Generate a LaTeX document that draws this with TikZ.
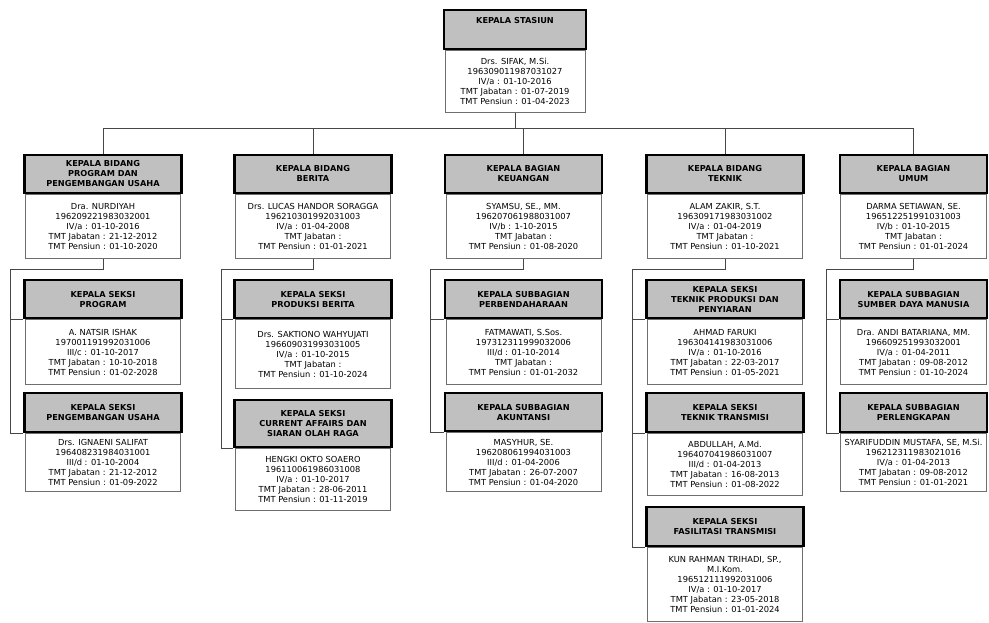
\documentclass[tikz,border=0pt]{standalone}
\usepackage{fontspec}
\setmainfont{DejaVu Sans}
\definecolor{headgray}{RGB}{192,192,192}
\definecolor{boxline}{RGB}{110,110,110}
\definecolor{wire}{RGB}{70,70,70}
\newcommand{\hdfont}{\fontsize{8.2}{10}\selectfont\bfseries}
\newcommand{\bdfont}{\fontsize{8.3}{10}\selectfont}
\tikzset{
  head/.style={draw=black, line width=2.4pt, fill=headgray, font=\hdfont, align=center,
    anchor=north, inner sep=1pt, minimum width=157pt, minimum height=38pt},
  body/.style={draw=boxline, line width=0.7pt, fill=white, font=\bdfont, align=center,
    anchor=north, inner sep=1pt, minimum width=155pt, minimum height=63pt},
  link/.style={draw=wire, line width=0.7pt}
}

\begin{document}
\begin{tikzpicture}[x=1pt,y=-1pt]
\useasboundingbox (0,0) rectangle (989,622);

% kepala stasiun
\node[head, minimum width=142pt, minimum height=39pt] (ks-h) at (515,9) {KEPALA STASIUN\\~\\[-2pt]~};
\node[body, minimum width=140pt, minimum height=62pt] (ks-b) at (ks-h.south) {Drs. SIFAK, M.Si.\\196309011987031027\\IV/a : 01-10-2016\\TMT Jabatan : 01-07-2019\\TMT Pensiun : 01-04-2023};

% bidang / bagian
\node[head] (kbp-h) at (103,153.5) {KEPALA BIDANG\\PROGRAM DAN\\PENGEMBANGAN USAHA};
\node[body, minimum height=64pt] (kbp-b) at (kbp-h.south) {Dra. NURDIYAH\\196209221983032001\\IV/a : 01-10-2016\\TMT Jabatan : 21-12-2012\\TMT Pensiun : 01-10-2020};

\node[head] (kbb-h) at (313,153.5) {KEPALA BIDANG\\BERITA};
\node[body, minimum height=64pt] (kbb-b) at (kbb-h.south) {Drs. LUCAS HANDOR SORAGGA\\196210301992031003\\IV/a : 01-04-2008\\TMT Jabatan :\\TMT Pensiun : 01-01-2021};

\node[head] (kbk-h) at (523.5,153.5) {KEPALA BAGIAN\\KEUANGAN};
\node[body, minimum height=64pt] (kbk-b) at (kbk-h.south) {SYAMSU, SE., MM.\\196207061988031007\\IV/b : 1-10-2015\\TMT Jabatan :\\TMT Pensiun : 01-08-2020};

\node[head] (kbt-h) at (725,153.5) {KEPALA BIDANG\\TEKNIK};
\node[body, minimum height=64pt] (kbt-b) at (kbt-h.south) {ALAM ZAKIR, S.T.\\196309171983031002\\IV/a : 01-04-2019\\TMT Jabatan :\\TMT Pensiun : 01-10-2021};

\node[head, minimum width=147pt] (kbu-h) at (913.5,153.5) {KEPALA BAGIAN\\UMUM};
\node[body, minimum width=146pt, minimum height=64pt] (kbu-b) at (kbu-h.south) {DARMA SETIAWAN, SE.\\196512251991031003\\IV/b : 01-10-2015\\TMT Jabatan :\\TMT Pensiun : 01-01-2024};

% seksi / subbagian
\node[head] (sprog-h) at (103,279) {KEPALA SEKSI\\PROGRAM};
\node[body, minimum height=65pt] (sprog-b) at (sprog-h.south) {A. NATSIR ISHAK\\197001191992031006\\III/c : 01-10-2017\\TMT Jabatan : 10-10-2018\\TMT Pensiun : 01-02-2028};
\node[head, minimum height=39pt] (spu-h) at (103,392) {KEPALA SEKSI\\PENGEMBANGAN USAHA};
\node[body, minimum height=58pt] (spu-b) at (spu-h.south) {Drs. IGNAENI SALIFAT\\196408231984031001\\III/d : 01-10-2004\\TMT Jabatan : 21-12-2012\\TMT Pensiun : 01-09-2022};

\node[head] (sprod-h) at (313,279) {KEPALA SEKSI\\PRODUKSI BERITA};
\node[body, minimum height=69pt] (sprod-b) at (sprod-h.south) {Drs. SAKTIONO WAHYUJATI\\196609031993031005\\IV/a : 01-10-2015\\TMT Jabatan :\\TMT Pensiun : 01-10-2024};
\node[head, minimum height=47pt] (scur-h) at (313,399) {KEPALA SEKSI\\CURRENT AFFAIRS DAN\\SIARAN OLAH RAGA};
\node[body, minimum height=62pt] (scur-b) at (scur-h.south) {HENGKI OKTO SOAERO\\196110061986031008\\IV/a : 01-10-2017\\TMT Jabatan : 28-06-2011\\TMT Pensiun : 01-11-2019};

\node[head] (sperb-h) at (523.5,279) {KEPALA SUBBAGIAN\\PERBENDAHARAAN};
\node[body, minimum height=65pt] (sperb-b) at (sperb-h.south) {FATMAWATI, S.Sos.\\197312311999032006\\III/d : 01-10-2014\\TMT Jabatan :\\TMT Pensiun : 01-01-2032};
\node[head] (sakun-h) at (523.5,392) {KEPALA SUBBAGIAN\\AKUNTANSI};
\node[body, minimum height=59pt] (sakun-b) at (sakun-h.south) {MASYHUR, SE.\\196208061994031003\\III/d : 01-04-2006\\TMT Jabatan : 26-07-2007\\TMT Pensiun : 01-04-2020};

\node[head] (stps-h) at (725,279) {KEPALA SEKSI\\TEKNIK PRODUKSI DAN\\PENYIARAN};
\node[body, minimum height=65pt] (stps-b) at (stps-h.south) {AHMAD FARUKI\\196304141983031006\\IV/a : 01-10-2016\\TMT Jabatan : 22-03-2017\\TMT Pensiun : 01-05-2021};
\node[head, minimum height=39pt] (stt-h) at (725,392) {KEPALA SEKSI\\TEKNIK TRANSMISI};
\node[body, minimum height=62pt] (stt-b) at (stt-h.south) {ABDULLAH, A.Md.\\196407041986031007\\III/d : 01-04-2013\\TMT Jabatan : 16-08-2013\\TMT Pensiun : 01-08-2022};
\node[head, minimum height=39pt] (sft-h) at (725,506) {KEPALA SEKSI\\FASILITASI TRANSMISI};
\node[body, minimum height=74pt] (sft-b) at (sft-h.south) {KUN RAHMAN TRIHADI, SP.,\\M.I.Kom.\\196512111992031006\\IV/a : 01-10-2017\\TMT Jabatan : 23-05-2018\\TMT Pensiun : 01-01-2024};

\node[head, minimum width=147pt] (ssdm-h) at (913.5,279) {KEPALA SUBBAGIAN\\SUMBER DAYA MANUSIA};
\node[body, minimum width=146pt, minimum height=65pt] (ssdm-b) at (ssdm-h.south) {Dra. ANDI BATARIANA, MM.\\196609251993032001\\IV/a : 01-04-2011\\TMT Jabatan : 09-08-2012\\TMT Pensiun : 01-10-2024};
\node[head, minimum width=147pt, minimum height=39pt] (sperl-h) at (913.5,392) {KEPALA SUBBAGIAN\\PERLENGKAPAN};
\node[body, minimum width=146pt, minimum height=58pt] (sperl-b) at (sperl-h.south) {SYARIFUDDIN MUSTAFA, SE, M.Si.\\196212311983021016\\IV/a : 01-04-2013\\TMT Jabatan : 09-08-2012\\TMT Pensiun : 01-01-2021};

% garis
\coordinate (bus) at (515,128);
\draw[link] (ks-b.south) -- (bus);
\draw[link] (kbp-h.north |- bus) -- (kbu-h.north |- bus);
\foreach \c in {kbp,kbb,kbk,kbt,kbu}
  \draw[link] (\c-h.north |- bus) -- (\c-h.north);

\draw[link] (kbp-b.south) -- ++(0,11) -| ([xshift=-13pt]spu-h.south west) -- (spu-h.south west);
\draw[link] ([xshift=-13pt]sprog-h.south west) -- (sprog-h.south west);

\draw[link] (kbb-b.south) -- ++(0,11) -| ([xshift=-12pt]scur-h.south west) -- (scur-h.south west);
\draw[link] ([xshift=-12pt]sprod-h.south west) -- (sprod-h.south west);

\draw[link] (kbk-b.south) -- ++(0,11) -| ([xshift=-13pt]sakun-h.south west) -- (sakun-h.south west);
\draw[link] ([xshift=-13pt]sperb-h.south west) -- (sperb-h.south west);

\draw[link] (kbt-b.south) -- ++(0,11) -| ([xshift=-13pt]sft-h.south west) -- (sft-h.south west);
\draw[link] ([xshift=-13pt]stps-h.south west) -- (stps-h.south west);
\draw[link] ([xshift=-13pt]stt-h.south west) -- (stt-h.south west);

\draw[link] (kbu-b.south) -- ++(0,11) -| ([xshift=-12pt]sperl-h.south west) -- (sperl-h.south west);
\draw[link] ([xshift=-12pt]ssdm-h.south west) -- (ssdm-h.south west);
\end{tikzpicture}
\end{document}
